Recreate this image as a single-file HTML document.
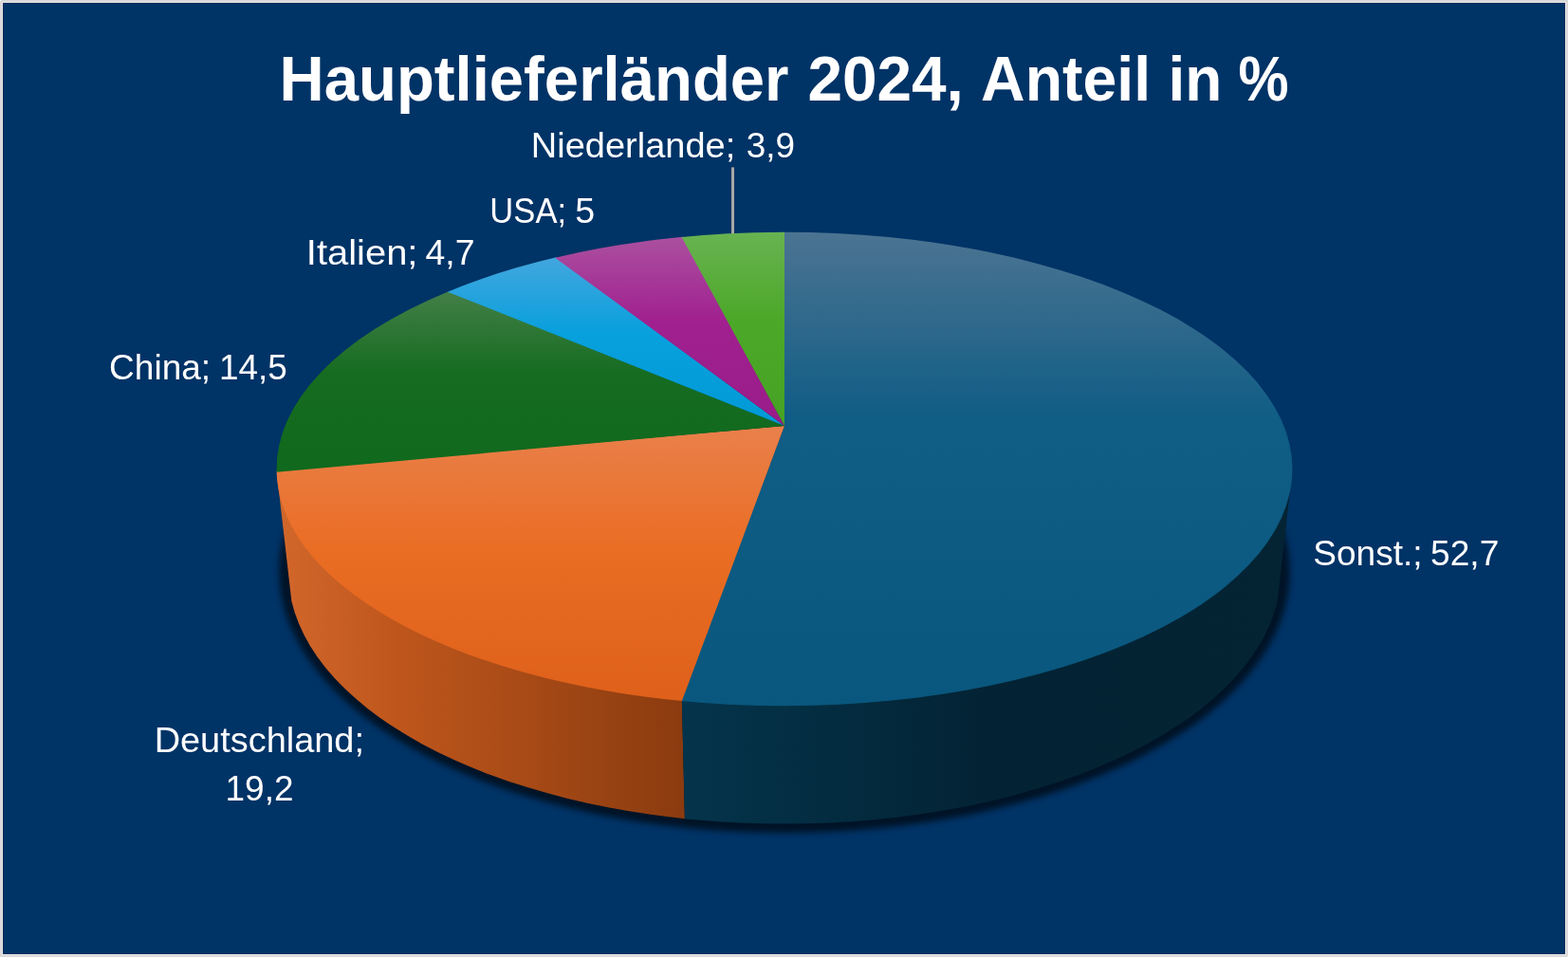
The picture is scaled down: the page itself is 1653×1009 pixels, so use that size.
<!DOCTYPE html>
<html lang="de">
<head>
<meta charset="utf-8">
<title>Hauptlieferländer 2024, Anteil in %</title>
<style>
html,body{margin:0;padding:0;background:#d9d9d9;overflow:hidden}
svg{display:block}
.tt{font-family:"Liberation Sans",sans-serif;font-weight:bold;font-size:66.6px;fill:#fff}
.lb{font-family:"Liberation Sans",sans-serif;font-weight:normal;font-size:37.3px;fill:#fff}
</style>
</head>
<body>
<svg width="1653" height="1009" viewBox="0 0 1653 1009">
<defs>
<linearGradient id="g_sonst" gradientUnits="userSpaceOnUse" x1="0" y1="244.75" x2="0" y2="744.25"><stop offset="0" stop-color="#4C7492"/><stop offset="0.39" stop-color="#105D85"/><stop offset="1" stop-color="#09577E"/></linearGradient>
<linearGradient id="g_de" gradientUnits="userSpaceOnUse" x1="0" y1="449" x2="0" y2="739.11"><stop offset="0" stop-color="#E9804B"/><stop offset="0.45" stop-color="#EA6D24"/><stop offset="1" stop-color="#DE601A"/></linearGradient>
<linearGradient id="g_cn" gradientUnits="userSpaceOnUse" x1="0" y1="307.63" x2="0" y2="497.8"><stop offset="0" stop-color="#437F47"/><stop offset="0.45" stop-color="#166C21"/><stop offset="1" stop-color="#10691D"/></linearGradient>
<linearGradient id="g_it" gradientUnits="userSpaceOnUse" x1="0" y1="271.67" x2="0" y2="449"><stop offset="0" stop-color="#42A6DE"/><stop offset="0.45" stop-color="#08A0DD"/><stop offset="1" stop-color="#009AD6"/></linearGradient>
<linearGradient id="g_us" gradientUnits="userSpaceOnUse" x1="0" y1="249.92" x2="0" y2="449"><stop offset="0" stop-color="#AB509F"/><stop offset="0.45" stop-color="#A0208F"/><stop offset="1" stop-color="#9A1C8A"/></linearGradient>
<linearGradient id="g_nl" gradientUnits="userSpaceOnUse" x1="0" y1="244.75" x2="0" y2="449"><stop offset="0" stop-color="#68B352"/><stop offset="0.45" stop-color="#4CA828"/><stop offset="1" stop-color="#46A224"/></linearGradient>
<linearGradient id="w_de" gradientUnits="userSpaceOnUse" x1="292" y1="0" x2="722" y2="0"><stop offset="0" stop-color="#D2672B"/><stop offset="0.3" stop-color="#BE561C"/><stop offset="1" stop-color="#8A3B0F"/></linearGradient>
<linearGradient id="w_so" gradientUnits="userSpaceOnUse" x1="722" y1="0" x2="1362" y2="0"><stop offset="0" stop-color="#04344B"/><stop offset="0.5" stop-color="#032334"/><stop offset="1" stop-color="#042434"/></linearGradient>
<clipPath id="c_de"><path d="M0 0H718.9L718.9 739.11L721.9 863.2V1009H0Z"/></clipPath>
<clipPath id="c_so"><path d="M1653 0H718.9L718.9 739.11L721.9 863.2V1009H1653Z"/></clipPath>
<filter id="blur" x="-5%" y="-5%" width="110%" height="110%" color-interpolation-filters="sRGB"><feGaussianBlur stdDeviation="3"/></filter>
</defs>
<rect width="1653" height="1009" fill="#d9d9d9"/>
<rect x="2" y="2" width="1649" height="1005" fill="#e8e4e1"/>
<rect x="3" y="3" width="1647" height="1003" fill="#002a60"/>
<rect x="4" y="4" width="1645" height="1001" fill="#003366"/>
<rect x="0" y="0" width="1" height="1" fill="#fff"/><rect x="1652" y="1008" width="1" height="1" fill="#f0f0f0"/>
<ellipse cx="827" cy="602.55" rx="532.77" ry="275.57" fill="#000" opacity="0.62" filter="url(#blur)"/>
<path d="M291.8 499L307.4 634A523.27 266.07 0 0 0 1346.6 634L1362.2 499Z" fill="url(#w_de)" clip-path="url(#c_de)"/>
<path d="M291.8 499L307.4 634A523.27 266.07 0 0 0 1346.6 634L1362.2 499Z" fill="url(#w_so)" clip-path="url(#c_so)"/>
<rect x="771" y="176.4" width="3" height="71" fill="#a9a6a3"/>
<path d="M827 449L825.7 244.75A535.4 249.75 0 1 1 717.61 738.98Z" fill="url(#g_sonst)"/>
<path d="M827 449L718.9 739.11A535.4 249.75 0 0 1 291.62 496.5Z" fill="url(#g_de)"/>
<path d="M827 449L291.65 497.8A535.4 249.75 0 0 1 473 307.13Z" fill="url(#g_cn)"/>
<path d="M827 449L471.8 307.63A535.4 249.75 0 0 1 586.47 271.37Z" fill="url(#g_it)"/>
<path d="M827 449L585.2 271.67A535.4 249.75 0 0 1 719.89 249.8Z" fill="url(#g_us)"/>
<path d="M827 449L718.6 249.92A535.4 249.75 0 0 1 827 244.75Z" fill="url(#g_nl)"/>
<text class="tt"><tspan x="294.59" y="106" textLength="536.93" lengthAdjust="spacingAndGlyphs">Hauptlieferländer</tspan> <tspan x="851.38" y="106" textLength="164.47" lengthAdjust="spacingAndGlyphs">2024,</tspan> <tspan x="1034.11" y="106" textLength="179.09" lengthAdjust="spacingAndGlyphs">Anteil</tspan> <tspan x="1231.44" y="106" textLength="56.77" lengthAdjust="spacingAndGlyphs">in</tspan> <tspan x="1305.53" y="106" textLength="53.11" lengthAdjust="spacingAndGlyphs">%</tspan></text>
<text class="lb"><tspan x="559.85" y="165.8" textLength="215.36" lengthAdjust="spacingAndGlyphs">Niederlande;</tspan> <tspan x="786.82" y="165.8" textLength="51.32" lengthAdjust="spacingAndGlyphs">3,9</tspan></text>
<text class="lb"><tspan x="516.35" y="234.5" textLength="80.72" lengthAdjust="spacingAndGlyphs">USA;</tspan> <tspan x="606.19" y="234.5" textLength="20.93" lengthAdjust="spacingAndGlyphs">5</tspan></text>
<text class="lb"><tspan x="322.86" y="279.2" textLength="117.57" lengthAdjust="spacingAndGlyphs">Italien;</tspan> <tspan x="448.45" y="279.2" textLength="52.02" lengthAdjust="spacingAndGlyphs">4,7</tspan></text>
<text class="lb"><tspan x="115.12" y="399.7" textLength="106.97" lengthAdjust="spacingAndGlyphs">China;</tspan> <tspan x="230.88" y="399.7" textLength="71.8" lengthAdjust="spacingAndGlyphs">14,5</tspan></text>
<text class="lb"><tspan x="162.65" y="793.1" textLength="221.36" lengthAdjust="spacingAndGlyphs">Deutschland;</tspan> <tspan x="237.57" y="844.2" textLength="71.95" lengthAdjust="spacingAndGlyphs">19,2</tspan></text>
<text class="lb"><tspan x="1384.36" y="596.2" textLength="115.17" lengthAdjust="spacingAndGlyphs">Sonst.;</tspan> <tspan x="1508.01" y="596.2" textLength="72.33" lengthAdjust="spacingAndGlyphs">52,7</tspan></text>
</svg>
</body>
</html>
